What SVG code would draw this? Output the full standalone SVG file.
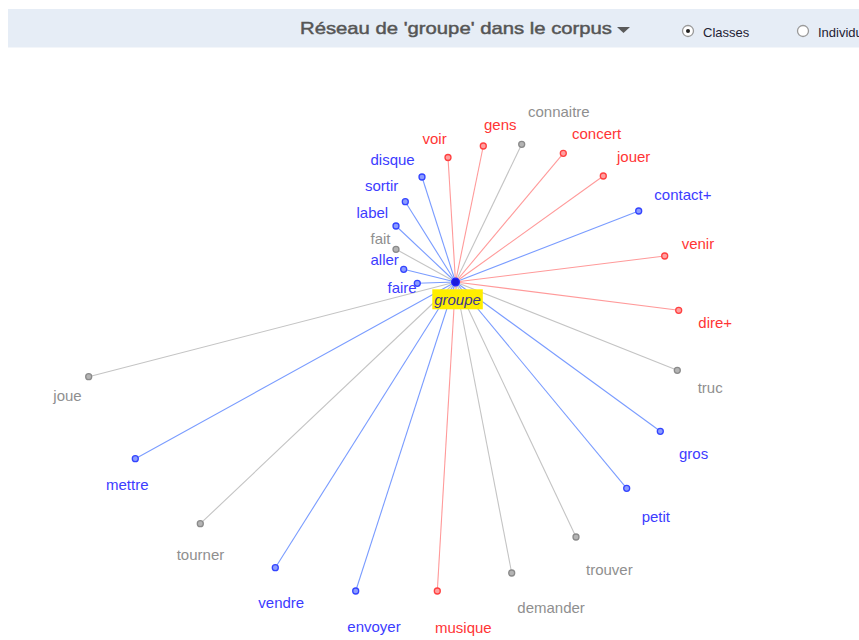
<svg xmlns="http://www.w3.org/2000/svg" width="859" height="640" viewBox="0 0 859 640">
<style>
text{font-family:"Liberation Sans",Arial,sans-serif}
.lb{font-size:15px}
.b{fill:#3c3cff}.r{fill:#ff3535}.g{fill:#8f8f8f}
.eb{stroke:#7a9cff}.er{stroke:#ff9a9a}.eg{stroke:#c4c4c4}
.cb{fill:#8c9cff;stroke:#3344ff}.cr{fill:#ffa0a0;stroke:#ff4040}.cg{fill:#b4b4b4;stroke:#8a8a8a}
circle{stroke-width:1.3}
#edges line{stroke-width:1.1}
</style>
<rect width="859" height="640" fill="#ffffff"/>
<g id="header">
<rect x="8" y="9" width="851" height="38" fill="#e6edf6"/>
<rect x="8" y="47" width="851" height="1" fill="#f3f6fa"/>
<text x="300" y="34" font-size="17" fill="#555555" stroke="#555555" stroke-width="0.45" textLength="312" lengthAdjust="spacingAndGlyphs">Réseau de 'groupe' dans le corpus</text>
<path d="M617,27 L630,27 L623.5,33 Z" fill="#5a5a5a"/>
<circle cx="688" cy="31" r="5.5" fill="#ffffff" stroke="#9a9a9a" stroke-width="1"/>
<circle cx="688" cy="31" r="2" fill="#222" stroke="none"/>
<text x="703" y="37" font-size="13" fill="#1e2233">Classes</text>
<circle cx="803" cy="31" r="5.5" fill="#ffffff" stroke="#9a9a9a" stroke-width="1"/>
<text x="818" y="37" font-size="13" fill="#1e2233">Individus</text>
</g>
<g id="edges">
<line class="er" x1="455.5" y1="282" x2="448" y2="157.5"/>
<line class="er" x1="455.5" y1="282" x2="483.3" y2="146"/>
<line class="eg" x1="455.5" y1="282" x2="521.7" y2="144.3"/>
<line class="er" x1="455.5" y1="282" x2="563.3" y2="153.3"/>
<line class="er" x1="455.5" y1="282" x2="603.3" y2="176"/>
<line class="eb" x1="455.5" y1="282" x2="422" y2="177"/>
<line class="eb" x1="455.5" y1="282" x2="405.3" y2="201.7"/>
<line class="eb" x1="455.5" y1="282" x2="396" y2="226"/>
<line class="eg" x1="455.5" y1="282" x2="396" y2="249.3"/>
<line class="eb" x1="455.5" y1="282" x2="403.7" y2="269.3"/>
<line class="eb" x1="455.5" y1="282" x2="417.3" y2="283.3"/>
<line class="eb" x1="455.5" y1="282" x2="638.7" y2="211"/>
<line class="er" x1="455.5" y1="282" x2="664.7" y2="256"/>
<line class="er" x1="455.5" y1="282" x2="678.7" y2="310.3"/>
<line class="eg" x1="455.5" y1="282" x2="677.3" y2="370.3"/>
<line class="eb" x1="455.5" y1="282" x2="660.3" y2="431.3"/>
<line class="eb" x1="455.5" y1="282" x2="626.7" y2="488.3"/>
<line class="eg" x1="455.5" y1="282" x2="576" y2="537"/>
<line class="eg" x1="455.5" y1="282" x2="511.7" y2="573"/>
<line class="er" x1="455.5" y1="282" x2="437.3" y2="591"/>
<line class="eb" x1="455.5" y1="282" x2="355.7" y2="591"/>
<line class="eb" x1="455.5" y1="282" x2="275.3" y2="567.7"/>
<line class="eg" x1="455.5" y1="282" x2="200.3" y2="523.7"/>
<line class="eb" x1="455.5" y1="282" x2="135.3" y2="458.7"/>
<line class="eg" x1="455.5" y1="282" x2="88.7" y2="376.7"/>
</g>
<g id="n-voir"><circle class="cr" cx="448" cy="157.5" r="3"/><text class="lb r" x="422.5" y="144">voir</text></g>
<g id="n-gens"><circle class="cr" cx="483.3" cy="146" r="3"/><text class="lb r" x="484" y="130">gens</text></g>
<g id="n-connaitre"><circle class="cg" cx="521.7" cy="144.3" r="3"/><text class="lb g" x="528" y="116.5">connaitre</text></g>
<g id="n-concert"><circle class="cr" cx="563.3" cy="153.3" r="3"/><text class="lb r" x="572" y="139">concert</text></g>
<g id="n-jouer"><circle class="cr" cx="603.3" cy="176" r="3"/><text class="lb r" x="617" y="162">jouer</text></g>
<g id="n-disque"><circle class="cb" cx="422" cy="177" r="3"/><text class="lb b" x="370.5" y="164.5">disque</text></g>
<g id="n-sortir"><circle class="cb" cx="405.3" cy="201.7" r="3"/><text class="lb b" x="365" y="190.5">sortir</text></g>
<g id="n-label"><circle class="cb" cx="396" cy="226" r="3"/><text class="lb b" x="356.5" y="218">label</text></g>
<g id="n-fait"><circle class="cg" cx="396" cy="249.3" r="3"/><text class="lb g" x="370.5" y="244">fait</text></g>
<g id="n-aller"><circle class="cb" cx="403.7" cy="269.3" r="3"/><text class="lb b" x="370.5" y="265">aller</text></g>
<g id="n-faire"><circle class="cb" cx="417.3" cy="283.3" r="3"/><text class="lb b" x="387.5" y="293.3">faire</text></g>
<g id="n-contact"><circle class="cb" cx="638.7" cy="211" r="3"/><text class="lb b" x="654.3" y="200">contact+</text></g>
<g id="n-venir"><circle class="cr" cx="664.7" cy="256" r="3"/><text class="lb r" x="681.7" y="249.3">venir</text></g>
<g id="n-dire"><circle class="cr" cx="678.7" cy="310.3" r="3"/><text class="lb r" x="698.3" y="328.3">dire+</text></g>
<g id="n-truc"><circle class="cg" cx="677.3" cy="370.3" r="3"/><text class="lb g" x="697.7" y="393.3">truc</text></g>
<g id="n-gros"><circle class="cb" cx="660.3" cy="431.3" r="3"/><text class="lb b" x="679" y="459">gros</text></g>
<g id="n-petit"><circle class="cb" cx="626.7" cy="488.3" r="3"/><text class="lb b" x="641.7" y="522.3">petit</text></g>
<g id="n-trouver"><circle class="cg" cx="576" cy="537" r="3"/><text class="lb g" x="586" y="575">trouver</text></g>
<g id="n-demander"><circle class="cg" cx="511.7" cy="573" r="3"/><text class="lb g" x="517.3" y="613.3">demander</text></g>
<g id="n-musique"><circle class="cr" cx="437.3" cy="591" r="3"/><text class="lb r" x="435" y="633.3">musique</text></g>
<g id="n-envoyer"><circle class="cb" cx="355.7" cy="591" r="3"/><text class="lb b" x="347.3" y="632">envoyer</text></g>
<g id="n-vendre"><circle class="cb" cx="275.3" cy="567.7" r="3"/><text class="lb b" x="258.3" y="608.3">vendre</text></g>
<g id="n-tourner"><circle class="cg" cx="200.3" cy="523.7" r="3"/><text class="lb g" x="176.7" y="560">tourner</text></g>
<g id="n-mettre"><circle class="cb" cx="135.3" cy="458.7" r="3"/><text class="lb b" x="106" y="490">mettre</text></g>
<g id="n-joue"><circle class="cg" cx="88.7" cy="376.7" r="3"/><text class="lb g" x="53.3" y="400.7">joue</text></g>
<g id="n-groupe">
<rect x="432.3" y="289.3" width="50.5" height="20" fill="#ffee00"/>
<text x="457.5" y="305" font-size="15" font-style="italic" fill="#3d3591" text-anchor="middle">groupe</text>
<circle cx="455.5" cy="282" r="3.8" fill="#1a1adb" stroke="#2020ff" stroke-width="1"/>
</g>
</svg>
